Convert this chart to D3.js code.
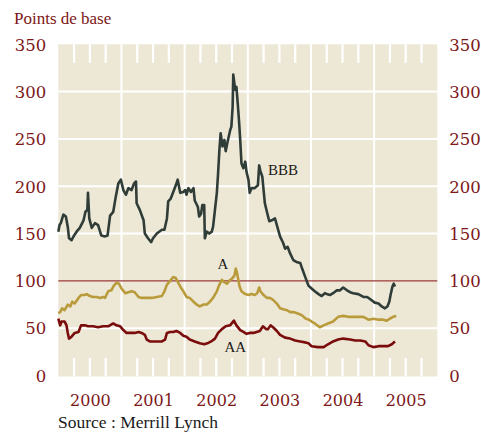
<!DOCTYPE html>
<html><head><meta charset="utf-8">
<script src="https://cdn.jsdelivr.net/npm/d3@7"></script>
<style>
html,body{margin:0;padding:0;background:#fff;}
svg{display:block;}
</style></head>
<body>
<svg id="chart" width="481" height="435"></svg>
<script>
// Data: [decimal year, spread in basis points]
const bbb = [[2000.00,152],[2000.02,159],[2000.04,161],[2000.08,170],[2000.12,168],[2000.15,157],[2000.17,145],[2000.21,143],[2000.25,148],[2000.29,152],[2000.34,156],[2000.40,164],[2000.43,173],[2000.46,175],[2000.47,193],[2000.49,166],[2000.53,156],[2000.58,161],[2000.63,159],[2000.68,148],[2000.74,147],[2000.78,148],[2000.82,169],[2000.87,173],[2000.91,189],[2000.95,203],[2000.99,207],[2001.03,196],[2001.07,191],[2001.11,198],[2001.16,196],[2001.20,203],[2001.23,205],[2001.24,182],[2001.29,175],[2001.35,164],[2001.37,150],[2001.42,145],[2001.47,141],[2001.50,145],[2001.56,150],[2001.64,154],[2001.68,154],[2001.72,166],[2001.74,184],[2001.78,187],[2001.82,194],[2001.86,201],[2001.89,207],[2001.91,200],[2001.93,193],[2001.98,194],[2002.01,196],[2002.03,191],[2002.06,198],[2002.10,194],[2002.14,198],[2002.16,185],[2002.21,178],[2002.23,168],[2002.26,171],[2002.28,180],[2002.31,180],[2002.32,145],[2002.35,152],[2002.39,150],[2002.43,152],[2002.45,157],[2002.48,175],[2002.51,193],[2002.53,214],[2002.55,238],[2002.57,256],[2002.60,242],[2002.63,249],[2002.65,237],[2002.68,247],[2002.72,259],[2002.74,263],[2002.76,284],[2002.77,318],[2002.80,302],[2002.82,305],[2002.84,288],[2002.86,270],[2002.88,249],[2002.90,224],[2002.93,219],[2002.96,226],[2002.98,215],[2003.01,207],[2003.03,193],[2003.06,198],[2003.11,198],[2003.16,201],[2003.18,222],[2003.20,216],[2003.23,210],[2003.25,196],[2003.27,182],[2003.31,171],[2003.34,163],[2003.38,164],[2003.43,166],[2003.46,159],[2003.51,147],[2003.56,140],[2003.59,134],[2003.63,136],[2003.67,129],[2003.72,122],[2003.77,120],[2003.83,119],[2003.86,113],[2003.91,104],[2003.96,95],[2004.01,92],[2004.06,89],[2004.12,86],[2004.17,84],[2004.22,87],[2004.25,86],[2004.30,85],[2004.35,87],[2004.41,90],[2004.46,90],[2004.51,93],[2004.57,90],[2004.62,88],[2004.67,87],[2004.75,86],[2004.83,83],[2004.89,83],[2004.95,80],[2005.01,77],[2005.07,76],[2005.12,73],[2005.17,71],[2005.21,73],[2005.24,78],[2005.26,85],[2005.29,94],[2005.31,97],[2005.33,94]];

const ratedA = [[2000.00,66],[2000.03,67],[2000.06,71],[2000.10,69],[2000.15,75],[2000.19,73],[2000.22,78],[2000.26,76],[2000.32,82],[2000.36,85],[2000.41,85],[2000.45,86],[2000.50,84],[2000.55,83],[2000.61,83],[2000.66,82],[2000.71,83],[2000.74,82],[2000.76,85],[2000.79,89],[2000.84,90],[2000.88,95],[2000.92,98],[2000.96,97],[2001.00,92],[2001.06,87],[2001.11,88],[2001.16,89],[2001.21,88],[2001.27,83],[2001.32,82],[2001.40,82],[2001.48,82],[2001.56,83],[2001.64,84],[2001.68,89],[2001.72,96],[2001.77,100],[2001.82,104],[2001.86,103],[2001.90,98],[2001.94,93],[2001.98,89],[2002.03,83],[2002.08,82],[2002.14,78],[2002.19,75],[2002.24,73],[2002.30,75],[2002.35,75],[2002.40,78],[2002.45,82],[2002.51,89],[2002.55,96],[2002.59,101],[2002.62,99],[2002.67,97],[2002.72,101],[2002.76,103],[2002.79,106],[2002.81,113],[2002.83,108],[2002.87,94],[2002.90,89],[2002.96,86],[2003.01,85],[2003.06,86],[2003.11,85],[2003.15,87],[2003.18,93],[2003.20,89],[2003.25,85],[2003.30,82],[2003.35,82],[2003.40,80],[2003.46,76],[2003.51,71],[2003.56,70],[2003.62,69],[2003.67,67],[2003.72,67],[2003.77,66],[2003.85,64],[2003.92,60],[2003.97,59],[2004.01,57],[2004.06,55],[2004.14,51],[2004.20,53],[2004.27,55],[2004.35,57],[2004.43,62],[2004.51,63],[2004.59,62],[2004.67,62],[2004.75,62],[2004.83,62],[2004.91,59],[2004.99,60],[2005.07,59],[2005.14,59],[2005.20,58],[2005.25,60],[2005.30,62],[2005.35,63]];

const ratedAA = [[2000.00,60],[2000.03,53],[2000.05,57],[2000.10,57],[2000.13,53],[2000.15,45],[2000.17,39],[2000.21,41],[2000.26,45],[2000.32,46],[2000.36,53],[2000.42,53],[2000.47,52],[2000.55,52],[2000.63,51],[2000.71,52],[2000.79,52],[2000.87,55],[2000.92,53],[2000.98,52],[2001.03,48],[2001.08,45],[2001.13,45],[2001.21,45],[2001.27,46],[2001.32,45],[2001.37,43],[2001.40,38],[2001.45,36],[2001.53,36],[2001.64,36],[2001.69,38],[2001.72,45],[2001.77,46],[2001.82,46],[2001.87,47],[2001.93,45],[2001.98,42],[2002.03,41],[2002.08,38],[2002.16,36],[2002.24,34],[2002.31,33],[2002.36,34],[2002.42,36],[2002.48,39],[2002.53,45],[2002.59,49],[2002.65,52],[2002.72,53],[2002.78,58],[2002.82,53],[2002.88,48],[2002.93,46],[2002.98,44],[2003.03,45],[2003.09,45],[2003.14,46],[2003.19,47],[2003.24,52],[2003.29,49],[2003.32,49],[2003.36,53],[2003.40,51],[2003.46,47],[2003.51,43],[2003.59,40],[2003.67,39],[2003.75,37],[2003.83,36],[2003.91,35],[2003.96,34],[2004.01,31],[2004.11,30],[2004.20,30],[2004.27,33],[2004.35,36],[2004.43,38],[2004.51,39],[2004.62,38],[2004.70,37],[2004.78,37],[2004.86,36],[2004.91,32],[2004.99,30],[2005.07,31],[2005.14,31],[2005.22,31],[2005.28,33],[2005.33,36]];

const years = [2000, 2001, 2002, 2003, 2004, 2005];
const yTicks = [0, 50, 100, 150, 200, 250, 300, 350];
const seriesNames = ["BBB", "A", "AA"];
const title = "Points de base";
const source = "Source : Merrill Lynch";

const svg = d3.select("#chart");
const L = 58.3, R = 437.3, T = 44.3, B = 375.5;
const x = d3.scaleLinear().domain([2000, 2006]).range([L, R]);
const y = d3.scaleLinear().domain([0, 350]).range([B, T]);

const red = "#7d1718";
const bg = "#ede8d6";

// background
svg.append("rect").attr("x", L).attr("y", T).attr("width", R - L).attr("height", B + 1 - T).attr("fill", bg);

// horizontal white gridlines
svg.append("g").selectAll("line").data(yTicks.filter(v => v > 0 && v < 350 && v !== 100)).join("line")
  .attr("x1", L).attr("x2", R).attr("y1", d => y(d)).attr("y2", d => y(d))
  .attr("stroke", "#fff").attr("stroke-width", 2);

// vertical year gridlines
svg.append("g").selectAll("line").data(years.slice(1)).join("line")
  .attr("x1", d => x(d)).attr("x2", d => x(d)).attr("y1", T).attr("y2", B + 1)
  .attr("stroke", "#fff").attr("stroke-width", 2);

// quarter ticks top and bottom
const quarters = [];
years.forEach(yr => [0.25, 0.5, 0.75].forEach(q => quarters.push(yr + q)));
const qg = svg.append("g");
qg.selectAll("line.t").data(quarters).join("line").attr("class", "t")
  .attr("x1", d => x(d)).attr("x2", d => x(d)).attr("y1", T).attr("y2", T + 18.5)
  .attr("stroke", "#fff").attr("stroke-width", 2.2);
qg.selectAll("line.b").data(quarters).join("line").attr("class", "b")
  .attr("x1", d => x(d)).attr("x2", d => x(d)).attr("y1", B + 1 - 18.5).attr("y2", B + 1)
  .attr("stroke", "#fff").attr("stroke-width", 2.2);

// reference line at 100
svg.append("line").attr("x1", L).attr("x2", R).attr("y1", y(100)).attr("y2", y(100))
  .attr("stroke", "#9b3a3a").attr("stroke-width", 1.3);

// series
const line = d3.line().x(d => x(d[0])).y(d => y(d[1]));
const series = [
  {name: "AA", data: ratedAA, color: "#7a0c0c"},
  {name: "A", data: ratedA, color: "#b99b3b"},
  {name: "BBB", data: bbb, color: "#2f3c38"}
];
svg.append("g").selectAll("path").data(series).join("path")
  .attr("d", d => line(d.data)).attr("fill", "none")
  .attr("stroke", d => d.color).attr("stroke-width", 2.6)
  .attr("stroke-linejoin", "round");

// series labels
const labelPos = {BBB: [2003.32, 212], A: [2002.52, 113], AA: [2002.63, 25]};
svg.append("g").selectAll("text").data(seriesNames).join("text")
  .attr("x", d => x(labelPos[d][0])).attr("y", d => y(labelPos[d][1]))
  .text(d => d)
  .attr("font-family", "'Liberation Serif', serif").attr("font-size", 15)
  .attr("fill", "#1a1a1a");

// axes
const numFont = "'DejaVu Serif', serif";
const leftAxis = svg.append("g").attr("transform", `translate(${L},0)`)
  .call(d3.axisLeft(y).tickValues(yTicks).tickSize(0).tickPadding(12));
const rightAxis = svg.append("g").attr("transform", `translate(${R},0)`)
  .call(d3.axisRight(y).tickValues(yTicks).tickSize(0).tickPadding(12));
[leftAxis, rightAxis].forEach(g => {
  g.select(".domain").remove();
  g.selectAll("text").attr("font-family", numFont).attr("font-size", 16.5)
    .attr("fill", red).attr("dy", "0.35em");
});

const bottomAxis = svg.append("g").attr("transform", `translate(0,${B + 1})`)
  .call(d3.axisBottom(x).tickValues(years.map(v => v + 0.5)).tickFormat(d => String(Math.floor(d))).tickSize(0).tickPadding(18));
bottomAxis.select(".domain").remove();
bottomAxis.selectAll("text").attr("font-family", numFont).attr("font-size", 16)
  .attr("fill", red);

// title and source
svg.append("text").attr("x", 14).attr("y", 24).text(title)
  .attr("font-family", "'Liberation Serif', serif").attr("font-size", 17).attr("fill", red);
svg.append("text").attr("x", 58).attr("y", 428).text(source)
  .attr("font-family", "'Liberation Serif', serif").attr("font-size", 17.5).attr("fill", "#1a1a1a");
</script>
</body></html>
